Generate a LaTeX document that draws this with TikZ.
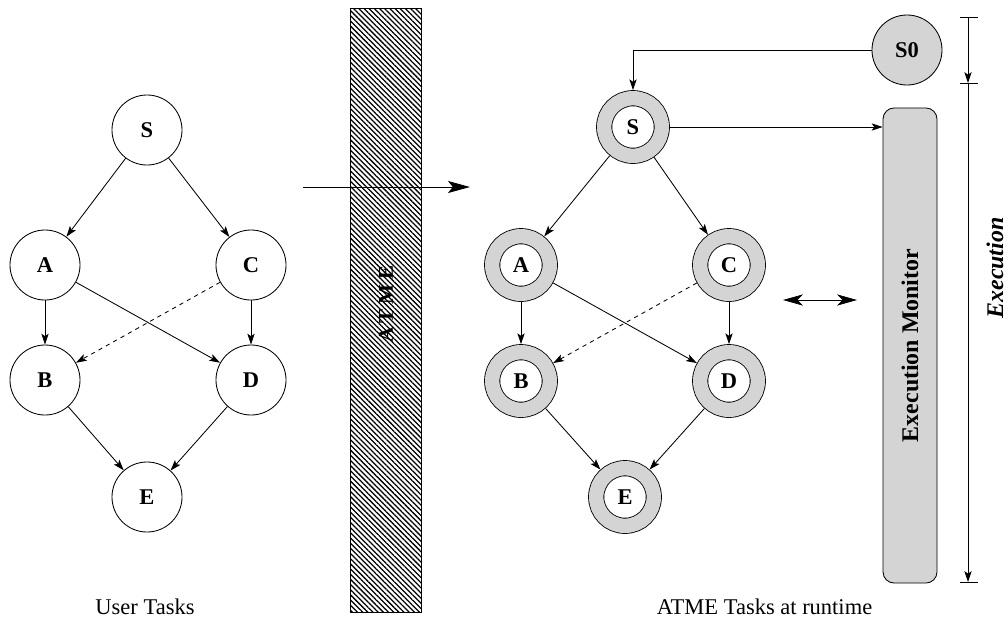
\documentclass[tikz,border=0pt]{standalone}
\usepackage{fontspec}
\setmainfont{Liberation Serif}
\usetikzlibrary{arrows.meta,patterns.meta,positioning}

\tikzset{
  task/.style={circle,draw,line width=0.6pt,minimum size=1.75cm,inner sep=0pt,
    font=\fontsize{16}{18}\selectfont\bfseries},
  rtask/.style={circle,draw,line width=0.6pt,double=black!17,double distance=0.36cm,
    fill=white,minimum size=1.44cm,inner sep=0pt,outer sep=0.2cm,
    font=\fontsize{16}{18}\selectfont\bfseries},
  edge/.style={-{Stealth[length=0.27cm,width=0.18cm,inset=0.06cm]},line width=0.6pt},
  caption/.style={font=\fontsize{16}{19}\selectfont},
}

\begin{document}
\begin{tikzpicture}[x=0.025cm,y=-0.025cm]
\useasboundingbox (0,0) rectangle (1008,627);

% user tasks
\node[task] (S) at (147,130) {S};
\node[task] (A) at (45,265) {A};
\node[task] (C) at (251,265) {C};
\node[task] (B) at (45,380) {B};
\node[task] (D) at (251,380) {D};
\node[task] (E) at (147,497) {E};
\draw[edge] (S) -- (A);
\draw[edge] (S) -- (C);
\draw[edge] (A) -- (B);
\draw[edge] (A) -- (D);
\draw[edge] (C) -- (D);
\draw[edge,dashed] (C) -- (B);
\draw[edge] (B) -- (E);
\draw[edge] (D) -- (E);
\node[caption] (utasks) at (145,607) {User Tasks};

% ATME bar
\draw[line width=0.6pt,pattern={Lines[angle=-45,distance=2.6pt,line width=0.9pt]}]
  (350,8) rectangle (421,612);
\node[rotate=90,font=\fontsize{15}{18}\selectfont\bfseries\addfontfeature{LetterSpace=25}]
  (atme) at (386,304) {ATME};
\coordinate (in) at (303,187);
\coordinate (out) at (470,187);
\draw[-{Stealth[length=0.55cm,width=0.3cm,inset=0.12cm]},line width=0.7pt] (in) -- (out);

% tasks at runtime
\node[rtask] (rS) at (633,127) {S};
\node[rtask] (rA) at (521,265) {A};
\node[rtask] (rC) at (729,265) {C};
\node[rtask] (rB) at (521,381) {B};
\node[rtask] (rD) at (729,381) {D};
\node[rtask] (rE) at (625,497) {E};
\draw[edge] (rS) -- (rA);
\draw[edge] (rS) -- (rC);
\draw[edge] (rA) -- (rB);
\draw[edge] (rA) -- (rD);
\draw[edge] (rC) -- (rD);
\draw[edge,dashed] (rC) -- (rB);
\draw[edge] (rB) -- (rE);
\draw[edge] (rD) -- (rE);
\node[caption,anchor=west] (rtasks) at (652,607) {ATME Tasks at runtime};

% start task and monitor
\node[task,fill=black!17] (S0) at (907,50) {S0};
\draw[edge] (S0) -| (rS);
\node[draw,line width=0.6pt,fill=black!17,rounded corners=0.28cm,rotate=90,
  minimum width=11.875cm,minimum height=1.35cm,
  font=\fontsize{17}{20}\selectfont\bfseries] (mon) at (910,345.5) {Execution Monitor};
\draw[edge] (rS) -- (rS -| mon.north);
\coordinate (ml) at (783,300);
\coordinate (mr) at (857,300);
\draw[{Stealth[length=0.5cm,width=0.28cm,inset=0.14cm]}-{Stealth[length=0.5cm,width=0.28cm,inset=0.14cm]},line width=0.5pt] (ml) -- (mr);

% time line
\coordinate (t0) at (968,17);
\coordinate (t1) at (968,83);
\coordinate (t2) at (968,582);
\draw[edge] (t0) -- (t1);
\draw[edge] (t1) -- (t2);
\foreach \t in {t0,t1,t2}
  \draw[line width=0.6pt] ([xshift=-0.2cm]\t) -- ([xshift=0.25cm]\t);
\node[rotate=90,font=\fontsize{17}{20}\selectfont\bfseries\itshape] (exec) at (995,268) {Execution};
\end{tikzpicture}
\end{document}
